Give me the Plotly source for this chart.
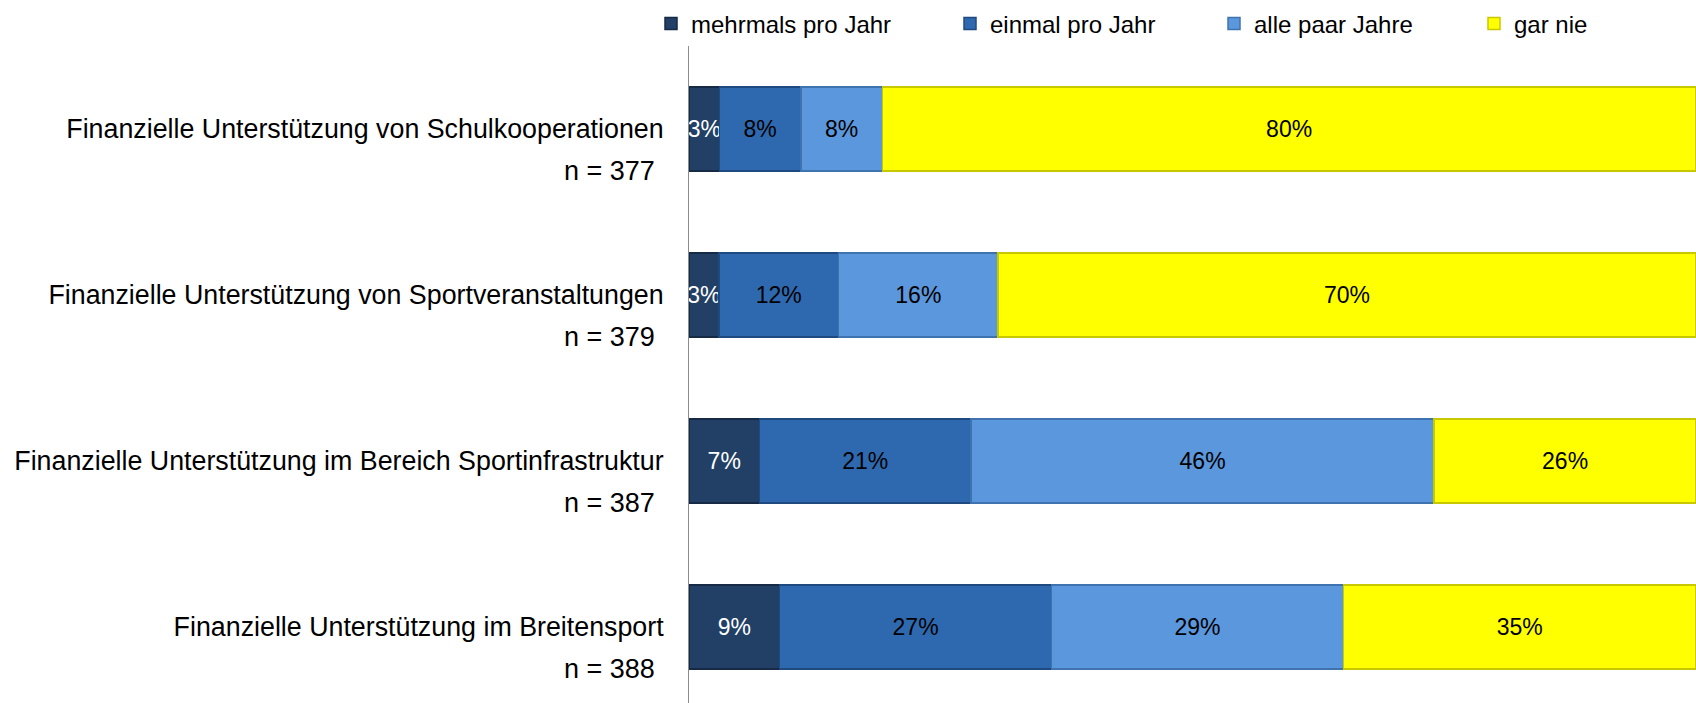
import plotly.graph_objects as go

categories = [
    "Finanzielle Unterstützung von Schulkooperationen",
    "Finanzielle Unterstützung von Sportveranstaltungen",
    "Finanzielle Unterstützung im Bereich Sportinfrastruktur",
    "Finanzielle Unterstützung im Breitensport",
]
n_labels = ["n = 377", "n = 379", "n = 387", "n = 388"]

series_names = ["mehrmals pro Jahr", "einmal pro Jahr", "alle paar Jahre", "gar nie"]
mehrmals = [3, 3, 7, 9]
einmal = [8, 12, 21, 27]
alle_paar = [8, 16, 46, 29]
gar_nie = [80, 70, 26, 35]
series_values = [mehrmals, einmal, alle_paar, gar_nie]

colors = ["#223F66", "#2E69B0", "#5B97DC", "#FFFF00"]
line_colors = ["#162A45", "#1F4A80", "#3F73B0", "#C8C800"]
text_colors = ["white", "black", "black", "black"]
legend_text_px = [695, 994, 1258, 1518]

FONT = "Liberation Sans, Arial"
L, R, T, B = 689, 0, 46, 0
W, H = 1696, 703
pw = W - L - R
ph = H - T - B

fig = go.Figure()
ypos = list(range(len(categories)))
for i, (name, vals) in enumerate(zip(series_names, series_values)):
    fig.add_trace(go.Bar(
        name=name,
        y=ypos,
        x=vals,
        orientation="h",
        marker=dict(color=colors[i], line=dict(color=line_colors[i], width=1.5)),
        text=[f"{v}%" for v in vals],
        texttemplate="%{text}",
        textposition="inside",
        insidetextanchor="middle",
        textangle=0,
        constraintext="none",
        textfont=dict(color=text_colors[i], size=23, family=FONT),
        legend="legend" if i == 0 else f"legend{i+1}",
        hoverinfo="skip",
    ))

legend_common = dict(
    orientation="h", yanchor="middle", y=1 + (T - 24) / ph,
    xanchor="left", font=dict(size=24, family=FONT, color="black"),
    itemwidth=30, bgcolor="rgba(0,0,0,0)", borderwidth=0,
)
legends = {}
for i in range(4):
    key = "legend" if i == 0 else f"legend{i+1}"
    legends[key] = dict(legend_common, x=(legend_text_px[i] - 44 - L) / pw)

annotations = []
for i, nl in enumerate(n_labels):
    annotations.append(dict(
        text=nl, xref="paper", yref="y", x=0, y=i, xanchor="right", yanchor="middle",
        xshift=-32, yshift=-42, showarrow=False,
        font=dict(size=27, family=FONT, color="black"),
    ))

fig.update_layout(
    width=W, height=H,
    margin=dict(l=L, r=R, t=T, b=B, pad=0, autoexpand=False),
    barmode="stack", barnorm="percent", bargap=0.494,
    plot_bgcolor="white", paper_bgcolor="white",
    showlegend=True,
    xaxis=dict(range=[0, 100], showgrid=False, showticklabels=False, zeroline=False,
               showline=False, fixedrange=True),
    yaxis=dict(range=[3.458, -0.5], tickmode="array", tickvals=ypos, ticktext=categories,
               showgrid=False, zeroline=False, showline=True, linecolor="#8c8c8c",
               linewidth=1, ticks="", ticklabelstandoff=19, fixedrange=True,
               tickfont=dict(size=26.8, family=FONT, color="black")),
    annotations=annotations,
    **legends,
)

post = (
    "document.documentElement.style.margin='0';"
    "document.documentElement.style.overflow='hidden';"
    "document.body.style.margin='0';"
    "document.body.style.padding='0';"
    "document.body.style.overflow='hidden';"
    "var gd=document.getElementById('{plot_id}');"
    "Plotly.relayout(gd,{width:%d,height:%d});" % (W, H)
)

fig.write_html("out.html", post_script=post,
               config={"responsive": False, "displayModeBar": False, "staticPlot": True})
